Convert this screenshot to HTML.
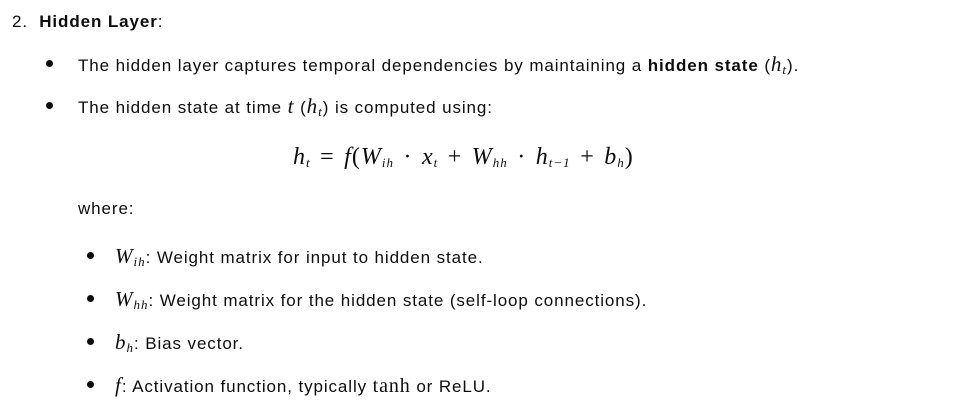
<!DOCTYPE html>
<html><head><meta charset="utf-8"><style>
body{margin:0;width:964px;height:409px;background:#fff;color:#0d0d0d;font-family:"Liberation Sans",sans-serif;font-size:17px;letter-spacing:0.9px;position:relative;overflow:hidden}
.l{position:absolute;white-space:nowrap;line-height:20px}
.m{font-family:"Liberation Serif",serif;font-style:italic;font-size:21px;letter-spacing:1px}
.r{font-family:"Liberation Serif",serif;font-style:normal;font-size:20px}
sub{font-size:13px;vertical-align:-3px;line-height:0}
.d{position:absolute;width:7px;height:7px;border-radius:50%;background:#0d0d0d}
.f{font-family:"Liberation Serif",serif;font-style:italic;font-size:24px;letter-spacing:1px;word-spacing:2.5px}
.f .o{font-style:normal}
</style></head><body>
<div class="l" style="left:12px;top:12px">2.&nbsp; <b>Hidden Layer</b>:</div>
<div class="d" style="left:46px;top:60px"></div>
<div class="l" style="left:78px;top:54px">The hidden layer captures temporal dependencies by maintaining a <b>hidden state</b> (<span class="m">h<sub>t</sub></span>).</div>
<div class="d" style="left:46px;top:102px"></div>
<div class="l" style="left:78px;top:96px">The hidden state at time <span class="m">t</span> (<span class="m">h<sub>t</sub></span>) is computed using:</div>
<div class="l f" style="left:293px;top:147px">h<sub>t</sub> <span class="o">=</span> f<span class="o">(</span>W<sub>ih</sub> <span class="o">·</span> x<sub>t</sub> <span class="o">+</span> W<sub>hh</sub> <span class="o">·</span> h<sub>t−1</sub> <span class="o">+</span> b<sub>h</sub><span class="o">)</span></div>
<div class="l" style="left:78px;top:199px">where:</div>
<div class="d" style="left:87px;top:252px"></div>
<div class="l" style="left:115px;top:246px"><span class="m">W<sub>ih</sub></span>: Weight matrix for input to hidden state.</div>
<div class="d" style="left:87px;top:295px"></div>
<div class="l" style="left:115px;top:289px"><span class="m">W<sub>hh</sub></span>: Weight matrix for the hidden state (self-loop connections).</div>
<div class="d" style="left:87px;top:338px"></div>
<div class="l" style="left:115px;top:332px"><span class="m">b<sub>h</sub></span>: Bias vector.</div>
<div class="d" style="left:87px;top:381px"></div>
<div class="l" style="left:115px;top:375px"><span class="m">f</span>: Activation function, typically <span class="r">tanh</span> or ReLU.</div>
</body></html>
